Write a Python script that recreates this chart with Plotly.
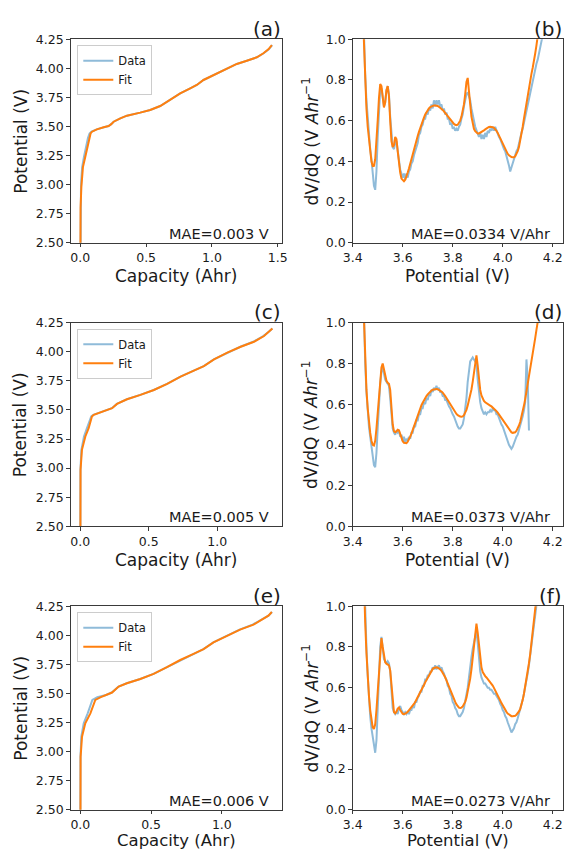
import plotly.graph_objects as go

# ---------------------------------------------------------------
# Voltage curves: capacity (Ahr) reached at each potential (V)
# ---------------------------------------------------------------
V_A = [2.00, 2.50, 2.80, 2.98, 3.05, 3.15, 3.24, 3.33, 3.40, 3.44, 3.455, 3.475,
       3.493, 3.504, 3.52, 3.541, 3.57, 3.593, 3.619, 3.642, 3.676, 3.728, 3.785,
       3.828, 3.857, 3.90, 3.943, 4.00, 4.038, 4.066, 4.095, 4.13, 4.164, 4.20]
Q_FIT_A = [0.0, 0.0, 0.002, 0.008, 0.012, 0.020, 0.038, 0.056, 0.068, 0.078, 0.089,
           0.126, 0.177, 0.215, 0.235, 0.253, 0.304, 0.354, 0.455, 0.531, 0.607,
           0.683, 0.759, 0.835, 0.885, 0.936, 1.012, 1.113, 1.189, 1.265, 1.341,
           1.391, 1.429, 1.455]
Q_DATA_A = [0.0, 0.0, 0.001, 0.005, 0.008, 0.014, 0.028, 0.044, 0.058, 0.070, 0.085,
            0.124, 0.176, 0.214, 0.235, 0.253, 0.304, 0.354, 0.455, 0.531, 0.607,
            0.683, 0.759, 0.835, 0.885, 0.936, 1.012, 1.113, 1.189, 1.265, 1.341,
            1.393, 1.432, 1.458]

V_C = [2.00, 2.50, 2.80, 2.986, 3.157, 3.272, 3.343, 3.40, 3.444, 3.458, 3.478,
       3.495, 3.515, 3.552, 3.592, 3.63, 3.672, 3.724, 3.787, 3.838, 3.878, 3.935,
       3.993, 4.044, 4.087, 4.136, 4.173, 4.201]
Q_FIT_C = [0.0, 0.0, 0.001, 0.002, 0.012, 0.037, 0.061, 0.075, 0.085, 0.098, 0.146,
           0.195, 0.232, 0.268, 0.341, 0.439, 0.537, 0.634, 0.732, 0.829, 0.902,
           0.976, 1.073, 1.171, 1.268, 1.341, 1.378, 1.402]
Q_DATA_C = [0.0, 0.0, 0.0, 0.001, 0.008, 0.027, 0.048, 0.065, 0.080, 0.095, 0.145,
            0.194, 0.231, 0.267, 0.340, 0.438, 0.536, 0.633, 0.731, 0.828, 0.901,
            0.975, 1.072, 1.168, 1.262, 1.335, 1.376, 1.402]

V_E = [2.00, 2.50, 2.80, 2.955, 3.128, 3.243, 3.329, 3.40, 3.444, 3.467, 3.487,
       3.508, 3.559, 3.588, 3.625, 3.669, 3.726, 3.788, 3.84, 3.881, 3.939, 3.997,
       4.049, 4.092, 4.141, 4.169, 4.201]
Q_FIT_E = [0.0, 0.0, 0.001, 0.002, 0.012, 0.035, 0.071, 0.094, 0.106, 0.141, 0.188,
           0.224, 0.271, 0.329, 0.424, 0.518, 0.612, 0.706, 0.800, 0.871, 0.941,
           1.035, 1.129, 1.224, 1.294, 1.329, 1.353]
Q_DATA_E = [0.0, 0.0, 0.0, 0.001, 0.007, 0.024, 0.052, 0.072, 0.085, 0.120, 0.182,
            0.222, 0.270, 0.328, 0.423, 0.517, 0.611, 0.705, 0.799, 0.870, 0.940,
            1.033, 1.125, 1.217, 1.290, 1.330, 1.355]

# ---------------------------------------------------------------
# Differential voltage dV/dQ (V/Ahr) sampled on a common potential grid
# ---------------------------------------------------------------
V_GRID = [
    3.440, 3.445, 3.450, 3.455, 3.460, 3.465, 3.470, 3.475, 3.480, 3.485,
    3.490, 3.495, 3.500, 3.505, 3.510, 3.515, 3.520, 3.525, 3.530, 3.535,
    3.540, 3.545, 3.550, 3.555, 3.560, 3.565, 3.570, 3.575, 3.580, 3.585,
    3.590, 3.595, 3.600, 3.605, 3.610, 3.615, 3.620, 3.625, 3.630, 3.635,
    3.640, 3.645, 3.650, 3.655, 3.660, 3.665, 3.670, 3.675, 3.680, 3.685,
    3.690, 3.695, 3.700, 3.705, 3.710, 3.715, 3.720, 3.725, 3.730, 3.735,
    3.740, 3.745, 3.750, 3.755, 3.760, 3.765, 3.770, 3.775, 3.780, 3.785,
    3.790, 3.795, 3.800, 3.805, 3.810, 3.815, 3.820, 3.825, 3.830, 3.835,
    3.840, 3.845, 3.850, 3.855, 3.860, 3.865, 3.870, 3.875, 3.880, 3.885,
    3.890, 3.895, 3.900, 3.905, 3.910, 3.915, 3.920, 3.925, 3.930, 3.935,
    3.940, 3.945, 3.950, 3.955, 3.960, 3.965, 3.970, 3.975, 3.980, 3.985,
    3.990, 3.995, 4.000, 4.005, 4.010, 4.015, 4.020, 4.025, 4.030, 4.035,
    4.040, 4.045, 4.050, 4.055, 4.060, 4.065, 4.070, 4.075, 4.080, 4.085,
    4.090, 4.095, 4.100, 4.105, 4.110, 4.115, 4.120, 4.125, 4.130, 4.135,
    4.140, 4.145, 4.150, 4.155, 4.160]

DQ_DATA_B = [
    1.25, 1.00, 0.82, 0.70, 0.60, 0.52, 0.46, 0.41, 0.35, 0.28,
    0.26, 0.35, 0.52, 0.66, 0.75, 0.76, 0.70, 0.67, 0.69, 0.75,
    0.77, 0.73, 0.62, 0.52, 0.47, 0.46, 0.49, 0.50, 0.45, 0.40,
    0.36, 0.34, 0.32, 0.34, 0.31, 0.34, 0.32, 0.35, 0.36, 0.39,
    0.40, 0.43, 0.45, 0.48, 0.49, 0.53, 0.54, 0.57, 0.58, 0.61,
    0.61, 0.64, 0.63, 0.66, 0.65, 0.68, 0.66, 0.70, 0.67, 0.70,
    0.68, 0.70, 0.67, 0.68, 0.65, 0.66, 0.63, 0.64, 0.61, 0.61,
    0.58, 0.59, 0.56, 0.57, 0.55, 0.56, 0.55, 0.57, 0.58, 0.61,
    0.63, 0.67, 0.70, 0.73, 0.74, 0.72, 0.70, 0.66, 0.62, 0.60,
    0.57, 0.55, 0.54, 0.52, 0.54, 0.51, 0.53, 0.51, 0.54, 0.52,
    0.55, 0.54, 0.56, 0.55, 0.57, 0.55, 0.57, 0.55, 0.54, 0.52,
    0.51, 0.49, 0.48, 0.46, 0.45, 0.43, 0.41, 0.38, 0.35, 0.37,
    0.40, 0.41, 0.43, 0.45, 0.46, 0.49, 0.51, 0.54, 0.56, 0.59,
    0.62, 0.64, 0.67, 0.70, 0.73, 0.76, 0.79, 0.82, 0.85, 0.88,
    0.90, 0.93, 0.96, 0.99, 1.02]
DQ_FIT_B = [
    1.15, 0.95, 0.78, 0.66, 0.57, 0.50, 0.44, 0.40, 0.377, 0.378,
    0.41, 0.49, 0.60, 0.71, 0.78, 0.77, 0.70, 0.665, 0.69, 0.75,
    0.77, 0.72, 0.60, 0.50, 0.47, 0.48, 0.52, 0.51, 0.45, 0.39,
    0.345, 0.315, 0.305, 0.302, 0.31, 0.325, 0.345, 0.365, 0.39, 0.41,
    0.435, 0.46, 0.48, 0.505, 0.525, 0.545, 0.565, 0.585, 0.60, 0.615,
    0.63, 0.642, 0.652, 0.66, 0.667, 0.671, 0.674, 0.675, 0.675, 0.674,
    0.672, 0.668, 0.664, 0.659, 0.653, 0.646, 0.638, 0.63, 0.622, 0.613,
    0.605, 0.597, 0.59, 0.584, 0.58, 0.578, 0.58, 0.588, 0.60, 0.62,
    0.645, 0.68, 0.73, 0.79, 0.81, 0.76, 0.68, 0.62, 0.58, 0.56,
    0.548, 0.54, 0.537, 0.537, 0.54, 0.543, 0.547, 0.552, 0.557, 0.562,
    0.566, 0.569, 0.57, 0.57, 0.568, 0.565, 0.559, 0.55, 0.54, 0.527,
    0.513, 0.50, 0.49, 0.475, 0.46, 0.448, 0.437, 0.43, 0.424, 0.421,
    0.42, 0.42, 0.425, 0.435, 0.45, 0.47, 0.50, 0.535, 0.57, 0.61,
    0.65, 0.69, 0.73, 0.77, 0.80, 0.83, 0.86, 0.89, 0.93, 0.97,
    1.01, 1.05, 1.10, 1.15, 1.20]

DQ_DATA_D = [
    1.30, 1.02, 0.80, 0.66, 0.56, 0.49, 0.44, 0.39, 0.34, 0.30,
    0.29, 0.36, 0.48, 0.60, 0.70, 0.76, 0.78, 0.75, 0.72, 0.71,
    0.70, 0.69, 0.63, 0.54, 0.48, 0.46, 0.45, 0.47, 0.46, 0.47,
    0.44, 0.45, 0.42, 0.44, 0.41, 0.43, 0.42, 0.44, 0.43, 0.46,
    0.46, 0.49, 0.49, 0.52, 0.52, 0.55, 0.55, 0.58, 0.58, 0.61,
    0.60, 0.63, 0.62, 0.65, 0.64, 0.67, 0.66, 0.68, 0.67, 0.69,
    0.67, 0.68, 0.66, 0.66, 0.64, 0.64, 0.62, 0.62, 0.60, 0.59,
    0.58, 0.56, 0.55, 0.54, 0.52, 0.51, 0.49, 0.48, 0.48, 0.49,
    0.50, 0.53, 0.57, 0.63, 0.71, 0.77, 0.81, 0.82, 0.83, 0.82,
    0.81, 0.80, 0.72, 0.66, 0.61, 0.58, 0.56, 0.55, 0.56, 0.55,
    0.56, 0.56, 0.57, 0.56, 0.58, 0.57, 0.57, 0.55, 0.55, 0.53,
    0.52, 0.50, 0.49, 0.47, 0.46, 0.44, 0.42, 0.40, 0.39, 0.38,
    0.39, 0.41, 0.42, 0.44, 0.45, 0.47, 0.49, 0.51, 0.54, 0.57,
    0.61, 0.82, 0.72, 0.47]
DQ_FIT_D = [
    1.20, 0.98, 0.80, 0.67, 0.58, 0.51, 0.46, 0.42, 0.40, 0.397,
    0.42, 0.48, 0.56, 0.65, 0.73, 0.78, 0.80, 0.77, 0.73, 0.715,
    0.705, 0.70, 0.67, 0.58, 0.50, 0.467, 0.462, 0.466, 0.474, 0.472,
    0.45, 0.43, 0.418, 0.41, 0.407, 0.408, 0.415, 0.425, 0.44, 0.455,
    0.473, 0.492, 0.51, 0.53, 0.548, 0.565, 0.58, 0.595, 0.607, 0.62,
    0.63, 0.64, 0.648, 0.656, 0.662, 0.667, 0.671, 0.673, 0.675, 0.675,
    0.674, 0.671, 0.667, 0.662, 0.657, 0.65, 0.64, 0.63, 0.62, 0.609,
    0.598, 0.588, 0.578, 0.568, 0.559, 0.552, 0.546, 0.541, 0.539, 0.538,
    0.54, 0.546, 0.557, 0.572, 0.594, 0.618, 0.645, 0.672, 0.71, 0.76,
    0.80, 0.84, 0.79, 0.72, 0.67, 0.643, 0.627, 0.616, 0.609, 0.604,
    0.60, 0.597, 0.593, 0.589, 0.584, 0.578, 0.572, 0.566, 0.558, 0.549,
    0.539, 0.529, 0.52, 0.511, 0.501, 0.491, 0.482, 0.473, 0.466, 0.461,
    0.459, 0.459, 0.462, 0.469, 0.48, 0.495, 0.512, 0.535, 0.563, 0.593,
    0.625, 0.66, 0.697, 0.735, 0.77, 0.806, 0.845, 0.885, 0.925, 0.965,
    1.00, 1.04, 1.08, 1.12, 1.16]

DQ_DATA_F = [
    1.40, 1.15, 0.95, 0.80, 0.66, 0.55, 0.46, 0.40, 0.35, 0.31,
    0.28, 0.34, 0.50, 0.66, 0.80, 0.85, 0.79, 0.74, 0.73, 0.72,
    0.73, 0.72, 0.68, 0.58, 0.50, 0.48, 0.47, 0.48, 0.47, 0.50,
    0.51, 0.49, 0.48, 0.47, 0.48, 0.47, 0.48, 0.47, 0.49, 0.49,
    0.51, 0.50, 0.53, 0.53, 0.55, 0.56, 0.58, 0.58, 0.61, 0.61,
    0.64, 0.64, 0.66, 0.66, 0.68, 0.68, 0.70, 0.69, 0.71, 0.69,
    0.70, 0.71, 0.69, 0.70, 0.68, 0.67, 0.65, 0.64, 0.61, 0.60,
    0.57, 0.56, 0.53, 0.52, 0.50, 0.49, 0.47, 0.46, 0.46, 0.47,
    0.48, 0.50, 0.53, 0.56, 0.60, 0.65, 0.71, 0.75, 0.79, 0.82,
    0.85, 0.88, 0.82, 0.74, 0.68, 0.65, 0.63, 0.62, 0.62, 0.61,
    0.60, 0.60, 0.59, 0.59, 0.58, 0.57, 0.57, 0.56, 0.55, 0.54,
    0.52, 0.51, 0.49, 0.48, 0.46, 0.45, 0.43, 0.41, 0.39, 0.38,
    0.39, 0.40, 0.42, 0.43, 0.45, 0.47, 0.49, 0.51, 0.54, 0.57,
    0.60, 0.63, 0.67, 0.71, 0.76, 0.80, 0.85, 0.90, 0.95, 1.00,
    1.05, 1.10, 1.15, 1.20, 1.25]
DQ_FIT_F = [
    1.35, 1.10, 0.92, 0.77, 0.65, 0.56, 0.49, 0.44, 0.405, 0.397,
    0.42, 0.49, 0.59, 0.70, 0.80, 0.844, 0.80, 0.75, 0.725, 0.718,
    0.713, 0.71, 0.685, 0.60, 0.52, 0.48, 0.474, 0.482, 0.497, 0.502,
    0.49, 0.476, 0.471, 0.47, 0.472, 0.476, 0.481, 0.488, 0.495, 0.503,
    0.511, 0.52, 0.53, 0.541, 0.552, 0.564, 0.576, 0.589, 0.601, 0.613,
    0.626, 0.638, 0.65, 0.662, 0.673, 0.684, 0.692, 0.697, 0.70, 0.70,
    0.698, 0.695, 0.69, 0.683, 0.674, 0.664, 0.651, 0.636, 0.62, 0.603,
    0.587, 0.571, 0.556, 0.542, 0.53, 0.518, 0.508, 0.502, 0.50, 0.502,
    0.508, 0.517, 0.53, 0.55, 0.578, 0.61, 0.645, 0.69, 0.745, 0.80,
    0.87, 0.915, 0.87, 0.80, 0.74, 0.70, 0.677, 0.665, 0.657, 0.65,
    0.643, 0.636, 0.628, 0.62, 0.61, 0.599, 0.588, 0.576, 0.563, 0.55,
    0.537, 0.524, 0.512, 0.501, 0.49, 0.481, 0.473, 0.467, 0.463, 0.46,
    0.46, 0.461, 0.462, 0.467, 0.474, 0.483, 0.495, 0.515, 0.54, 0.57,
    0.605, 0.635, 0.675, 0.72, 0.765, 0.81, 0.86, 0.91, 0.965, 1.02,
    1.08, 1.14, 1.20, 1.26, 1.32]

PANEL_TAGS = ["(a)", "(b)", "(c)", "(d)", "(e)", "(f)"]
MAE_LABELS = ["MAE=0.003 V", "MAE=0.0334 V/Ahr",
              "MAE=0.005 V", "MAE=0.0373 V/Ahr",
              "MAE=0.006 V", "MAE=0.0273 V/Ahr"]
CAP_RANGES = [[-0.073, 1.530], [-0.070, 1.470], [-0.068, 1.423]]
V_TICKS = [2.50, 2.75, 3.00, 3.25, 3.50, 3.75, 4.00, 4.25]
DQ_TICKS = [0.0, 0.2, 0.4, 0.6, 0.8, 1.0]
POT_TICKS = [3.4, 3.6, 3.8, 4.0, 4.2]
CAP_TICKS = [0.0, 0.5, 1.0, 1.5]

# ---------------------------------------------------------------
# Figure geometry (pixels)
# ---------------------------------------------------------------
W, H = 564, 851
FONT = "DejaVu Sans"
TEXT_COLOR = "#1a1a1a"
DATA_COLOR = "#8fbbd9"
FIT_COLOR = "#ff7f0e"
AX_COLOR = "#3a3a3a"

COLS = [(70.7, 281.7), (352.7, 562.7)]
ROW_TOP = [39.3, 322.8, 606.3]
AX_H = 203.4


def fx(p):
    return p / W


def fy(p):
    return 1 - p / H


fig = go.Figure()

voltage_sets = [(V_A, Q_DATA_A, Q_FIT_A), (V_C, Q_DATA_C, Q_FIT_C), (V_E, Q_DATA_E, Q_FIT_E)]
dvdq_sets = [(DQ_DATA_B, DQ_FIT_B), (DQ_DATA_D, DQ_FIT_D), (DQ_DATA_F, DQ_FIT_F)]

for r in range(3):
    leg = "legend" if r == 0 else f"legend{r + 1}"
    # left panel: potential vs capacity
    k = 2 * r
    xa, ya = (f"x{k + 1}", f"y{k + 1}") if k else ("x", "y")
    v, qd, qf = voltage_sets[r]
    fig.add_trace(go.Scatter(x=qd, y=v, mode="lines", name="Data", xaxis=xa, yaxis=ya,
                             line=dict(color=DATA_COLOR, width=2), legend=leg))
    fig.add_trace(go.Scatter(x=qf, y=v, mode="lines", name="Fit", xaxis=xa, yaxis=ya,
                             line=dict(color=FIT_COLOR, width=2), legend=leg))
    # right panel: dV/dQ vs potential
    k = 2 * r + 1
    xa, ya = f"x{k + 1}", f"y{k + 1}"
    dd, dfit = dvdq_sets[r]
    fig.add_trace(go.Scatter(x=V_GRID[:len(dd)], y=dd, mode="lines", xaxis=xa, yaxis=ya,
                             line=dict(color=DATA_COLOR, width=2), showlegend=False))
    fig.add_trace(go.Scatter(x=V_GRID[:len(dfit)], y=dfit, mode="lines", xaxis=xa, yaxis=ya,
                             line=dict(color=FIT_COLOR, width=2), showlegend=False))

layout = dict(
    template="none",
    width=W, height=H, margin=dict(l=0, r=0, t=0, b=0, autoexpand=False),
    paper_bgcolor="white", plot_bgcolor="white",
    font=dict(family=FONT, color=TEXT_COLOR),
)

axis_common = dict(showgrid=False, zeroline=False, showline=True, mirror=True,
                   automargin=False,
                   linecolor=AX_COLOR, linewidth=1.2, ticks="outside", ticklen=3.5,
                   tickwidth=1.1, tickcolor=AX_COLOR,
                   tickfont=dict(family=FONT, size=12.5, color=TEXT_COLOR))

annotations = []
for r in range(3):
    top = ROW_TOP[r]
    bot = top + AX_H
    for c in range(2):
        k = 2 * r + c
        sx = "" if k == 0 else str(k + 1)
        x0, x1 = COLS[c]
        xd = [fx(x0), fx(x1)]
        yd = [fy(bot), fy(top)]
        if c == 0:
            xax = dict(axis_common, domain=xd, anchor="y" + sx, range=CAP_RANGES[r],
                       tickvals=CAP_TICKS, tickformat=".1f")
            yax = dict(axis_common, domain=yd, anchor="x" + sx, range=[2.5, 4.25],
                       tickvals=V_TICKS, tickformat=".2f")
            xtitle, ytitle = "Capacity (Ahr)", "Potential (V)"
            ytx = 20.7
        else:
            xax = dict(axis_common, domain=xd, anchor="y" + sx, range=[3.4, 4.24],
                       tickvals=POT_TICKS, tickformat=".1f")
            yax = dict(axis_common, domain=yd, anchor="x" + sx, range=[0, 1],
                       tickvals=DQ_TICKS, tickformat=".1f")
            xtitle, ytitle = "Potential (V)", "dV/dQ (V <i>Ahr</i><sup>−1</sup>"
            ytx = 310.5
        layout["xaxis" + sx] = xax
        layout["yaxis" + sx] = yax

        cx = (x0 + x1) / 2
        cy = (top + bot) / 2
        if r < 2:
            xt = dict(y=fy(top + 236.7), yanchor="middle", borderpad=1,
                      font=dict(size=17, family=FONT, color=TEXT_COLOR))
        else:
            # bottom row: sit the title on the lower edge of the page
            xt = dict(y=0, yanchor="bottom", borderpad=0,
                      font=dict(size=16.5, family=FONT, color=TEXT_COLOR))
        annotations += [
            dict(text=xtitle, x=fx(cx), xref="paper", yref="paper",
                 xanchor="center", showarrow=False, **xt),
            dict(text=ytitle, x=fx(ytx), y=fy(cy), xref="paper", yref="paper",
                 xanchor="center", yanchor="middle", textangle=-90, showarrow=False,
                 font=dict(size=17, family=FONT, color=TEXT_COLOR)),
            dict(text=PANEL_TAGS[k], x=fx(x1 + 1), y=fy(top - 10.5), xref="paper",
                 yref="paper", xanchor="right", yanchor="middle", showarrow=False,
                 font=dict(size=20, family=FONT, color=TEXT_COLOR)),
            dict(text=MAE_LABELS[k], x=fx(x1 - 10.5), y=fy(top + 194.5), xref="paper",
                 yref="paper", xanchor="right", yanchor="middle", showarrow=False,
                 font=dict(size=14.5, family=FONT, color=TEXT_COLOR)),
        ]

    leg = dict(x=fx(77.3), y=fy(top + 6), xanchor="left", yanchor="top",
               bgcolor="rgba(255,255,255,0.8)", bordercolor="#cccccc", borderwidth=1,
               font=dict(size=11.5, family=FONT, color=TEXT_COLOR), tracegroupgap=0)
    layout["legend" if r == 0 else f"legend{r + 1}"] = leg

layout["annotations"] = annotations
fig.update_layout(**layout)
fig.write_html("out.html")
